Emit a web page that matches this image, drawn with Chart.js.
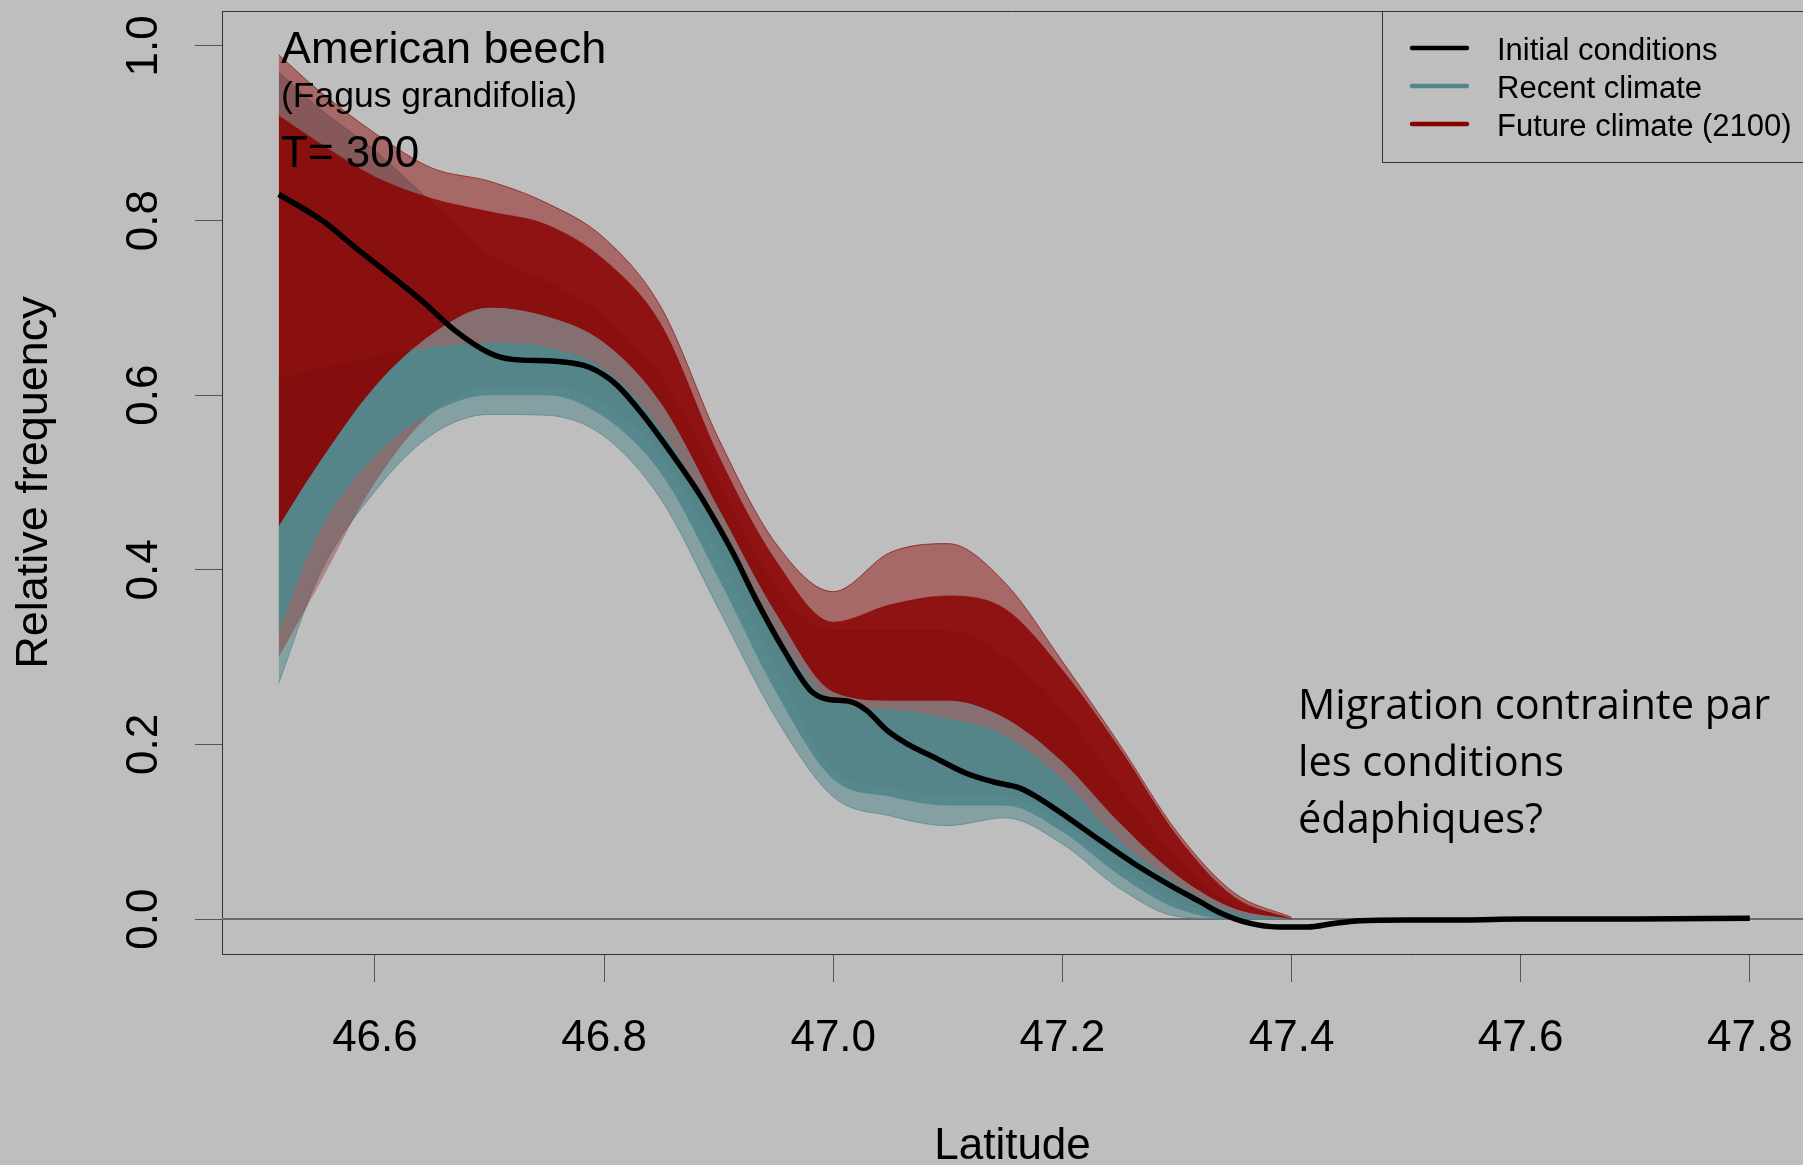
<!DOCTYPE html>
<html><head><meta charset="utf-8">
<script src="https://cdn.jsdelivr.net/npm/chart.js@4.4.0/dist/chart.umd.min.js"></script>
<style>html,body{margin:0;padding:0;background:#BEBEBE;overflow:hidden;}canvas{display:block;}</style>
</head><body>
<canvas id="c" width="1803" height="1165"></canvas>
<script>
// ---------- data ----------
const seriesNames = ['Initial conditions', 'Recent climate', 'Future climate (2100)'];
const xTitle = 'Latitude';
const yTitle = 'Relative frequency';
const xTicks = [46.6, 46.8, 47.0, 47.2, 47.4, 47.6, 47.8];
const xTickLabels = ['46.6', '46.8', '47.0', '47.2', '47.4', '47.6', '47.8'];
const yTicks = [0, 0.2, 0.4, 0.6, 0.8, 1.0];
const yTickLabels = ['0.0', '0.2', '0.4', '0.6', '0.8', '1.0'];
const titleLines = ['American beech', '(Fagus grandifolia)', 'T= 300'];
const noteLines = ['Migration contrainte par', 'les conditions', 'édaphiques?'];

// Initial conditions (black curve)
const initLat = [46.516, 46.554, 46.583, 46.612, 46.641, 46.670, 46.699, 46.72, 46.757, 46.787, 46.81, 46.833, 46.859, 46.883, 46.897, 46.913, 46.933, 46.957, 46.98, 46.994, 47.015, 47.029, 47.047, 47.064, 47.087, 47.116, 47.14, 47.163, 47.18, 47.204, 47.233, 47.262, 47.291, 47.32, 47.338, 47.364, 47.388, 47.414, 47.437, 47.46, 47.5, 47.55, 47.6, 47.7, 47.8];
const initVal = [0.830, 0.800, 0.769, 0.739, 0.708, 0.674, 0.649, 0.641, 0.639, 0.632, 0.613, 0.579, 0.533, 0.487, 0.456, 0.418, 0.365, 0.308, 0.262, 0.252, 0.249, 0.239, 0.216, 0.201, 0.186, 0.167, 0.157, 0.150, 0.138, 0.117, 0.090, 0.064, 0.041, 0.020, 0.007, -0.005, -0.009, -0.009, -0.005, -0.002, -0.001, -0.001, 0.0, 0.0, 0.001];

// Spaghetti bundles, summarised by their envelopes (outer extent and dense core)
const lat = [46.516, 46.55, 46.6, 46.65, 46.7, 46.75, 46.8, 46.85, 46.9, 46.95, 47.0, 47.05, 47.1, 47.15, 47.2, 47.25, 47.3, 47.35, 47.4];
const recentMin    = [0.27, 0.39, 0.49, 0.555, 0.578, 0.577, 0.553, 0.48, 0.355, 0.23, 0.14, 0.118, 0.107, 0.116, 0.086, 0.035, 0.003, 0.0, 0.0];
const recentCoreLo = [0.33, 0.44, 0.53, 0.58, 0.60, 0.60, 0.575, 0.51, 0.39, 0.26, 0.16, 0.14, 0.13, 0.13, 0.10, 0.05, 0.012, 0.0, 0.0];
const recentCoreHi = [0.62, 0.63, 0.645, 0.655, 0.66, 0.655, 0.63, 0.56, 0.45, 0.33, 0.25, 0.24, 0.23, 0.21, 0.16, 0.09, 0.04, 0.008, 0.0];
const recentMax    = [0.97, 0.93, 0.88, 0.82, 0.76, 0.73, 0.69, 0.62, 0.50, 0.38, 0.33, 0.33, 0.33, 0.30, 0.24, 0.15, 0.07, 0.015, 0.0];
const futureMin    = [0.30, 0.38, 0.50, 0.58, 0.61, 0.61, 0.59, 0.53, 0.42, 0.29, 0.17, 0.15, 0.14, 0.14, 0.11, 0.06, 0.02, 0.003, 0.0];
const futureCoreLo = [0.45, 0.52, 0.61, 0.67, 0.70, 0.69, 0.66, 0.59, 0.47, 0.35, 0.26, 0.25, 0.25, 0.23, 0.18, 0.11, 0.05, 0.012, 0.0];
const futureCoreHi = [0.92, 0.89, 0.85, 0.825, 0.81, 0.795, 0.755, 0.68, 0.53, 0.41, 0.34, 0.36, 0.37, 0.355, 0.285, 0.195, 0.095, 0.025, 0.0];
const futureMax    = [0.99, 0.95, 0.90, 0.86, 0.845, 0.82, 0.78, 0.70, 0.55, 0.43, 0.375, 0.42, 0.43, 0.385, 0.295, 0.20, 0.10, 0.03, 0.002];

// ---------- styling ----------
const COL = ['#000000', '#53868B', '#8B0000'];
const BG = '#BEBEBE';
const FONT = '"Liberation Sans", Arial, sans-serif';
const pts = (xs, ys) => xs.map((x, i) => ({x: x, y: ys[i]}));
const rgba = (hex, a) => {
  const n = parseInt(hex.slice(1), 16);
  return `rgba(${(n >> 16) & 255},${(n >> 8) & 255},${n & 255},${a})`;
};
function band(label, lo, hi, color, fillA, edgeA, edgeW) {
  return [
    {label: label, data: pts(lat, lo), borderColor: rgba(color, edgeA), borderWidth: edgeW, fill: false},
    {label: label, data: pts(lat, hi), borderColor: rgba(color, edgeA), borderWidth: edgeW, fill: '-1', backgroundColor: rgba(color, fillA)}
  ];
}
// index 0 is drawn last (on top)
const datasets = [
  {label: seriesNames[0], data: pts(initLat, initVal), borderColor: COL[0], borderWidth: 5.5, fill: false},
  ...band(seriesNames[2], futureCoreLo, futureCoreHi, COL[2], 0.9, 0, 0),
  ...band(seriesNames[1], recentCoreLo, recentCoreHi, COL[1], 0.93, 0, 0),
  ...band(seriesNames[2], futureMin, futureCoreLo, COL[2], 0.3, 0, 0),
  ...band(seriesNames[2], futureCoreHi, futureMax, COL[2], 0.45, 0.65, 1),
  ...band(seriesNames[1], recentMin, recentMax, COL[1], 0.55, 0.7, 1)
];

const deco = {
  id: 'deco',
  beforeDraw(chart) {
    const c = chart.ctx;
    c.save(); c.fillStyle = BG; c.fillRect(0, 0, chart.width, chart.height); c.restore();
  },
  beforeDatasetsDraw(chart) {
    const c = chart.ctx, a = chart.chartArea, y = chart.scales.y.getPixelForValue(0);
    c.save();
    c.strokeStyle = '#6b6b6b'; c.lineWidth = 2;
    c.beginPath(); c.moveTo(a.left, y); c.lineTo(a.right, y); c.stroke();
    c.restore();
  },
  afterDraw(chart) {
    const c = chart.ctx, a = chart.chartArea, ys = chart.scales.y;
    c.save();
    // frame top
    c.strokeStyle = '#333'; c.lineWidth = 1;
    c.beginPath(); c.moveTo(a.left, a.top + 0.5); c.lineTo(a.right, a.top + 0.5); c.stroke();
    // rotated y tick labels
    c.fillStyle = '#000'; c.font = '44px ' + FONT;
    c.textAlign = 'center'; c.textBaseline = 'alphabetic';
    yTicks.forEach((v, i) => {
      const py = ys.getPixelForValue(v);
      c.save(); c.translate(157, py); c.rotate(-Math.PI / 2);
      c.fillText(yTickLabels[i], 0, 0); c.restore();
    });
    // species title
    c.textAlign = 'left';
    const tx = a.left + 59;
    c.font = '45px ' + FONT; c.fillText(titleLines[0], tx, 63);
    c.font = '35.5px ' + FONT; c.fillText(titleLines[1], tx, 107);
    c.font = '44px ' + FONT; c.fillText(titleLines[2], tx, 167);
    // note
    c.font = '41.5px "Open Sans", sans-serif';
    noteLines.forEach((t, i) => c.fillText(t, 1298, 719 + i * 57));
    // legend
    const lx = 1382, ly = a.top;
    c.fillStyle = BG; c.fillRect(lx, ly, chart.width - lx + 5, 151);
    c.strokeStyle = '#333'; c.lineWidth = 1;
    c.strokeRect(lx + 0.5, ly + 0.5, chart.width - lx + 5, 151);
    c.lineCap = 'round'; c.lineWidth = 4.5;
    c.font = '31px ' + FONT; c.fillStyle = '#000';
    seriesNames.forEach((t, i) => {
      const yy = 48 + i * 38;
      c.strokeStyle = COL[i];
      c.beginPath(); c.moveTo(1412, yy); c.lineTo(1467, yy); c.stroke();
      c.fillText(t, 1497, yy + 12);
    });
    c.restore();
  }
};

new Chart(document.getElementById('c').getContext('2d'), {
  type: 'line',
  data: {datasets: datasets},
  options: {
    responsive: false, animation: false, devicePixelRatio: 1,
    layout: {padding: {top: 11, left: 0, right: 0, bottom: 0}},
    plugins: {legend: {display: false}, tooltip: {enabled: false}},
    elements: {point: {radius: 0}, line: {cubicInterpolationMode: 'monotone'}},
    scales: {
      x: {
        type: 'linear', position: 'bottom', min: 46.4665, max: 47.8464,
        afterBuildTicks: s => { s.ticks = xTicks.map(v => ({value: v})); },
        afterFit: s => { s.height = 211; s.paddingLeft = 0; s.paddingRight = 0; },
        ticks: {callback: (v, i) => xTickLabels[i], font: {family: FONT, size: 44}, color: '#000', padding: 30, maxRotation: 0, autoSkip: false},
        grid: {drawOnChartArea: false, drawTicks: true, tickLength: 28, color: '#555', lineWidth: 1},
        border: {display: true, color: '#333', width: 1},
        title: {display: true, text: xTitle, color: '#000', font: {family: FONT, size: 44, lineHeight: 0.8}, padding: {top: 0, bottom: 1}}
      },
      y: {
        type: 'linear', position: 'left', min: -0.04, max: 1.04,
        afterBuildTicks: s => { s.ticks = yTicks.map(v => ({value: v})); },
        afterFit: s => { s.width = 222; s.paddingTop = 0; s.paddingBottom = 0; },
        ticks: {display: false},
        grid: {drawOnChartArea: false, drawTicks: true, tickLength: 27, color: '#555', lineWidth: 1},
        border: {display: true, color: '#333', width: 1},
        title: {display: true, text: yTitle, color: '#000', font: {family: FONT, size: 45, lineHeight: 0.8}, padding: {top: 17, bottom: 0}}
      }
    }
  },
  plugins: [deco]
});
</script>
</body></html>
